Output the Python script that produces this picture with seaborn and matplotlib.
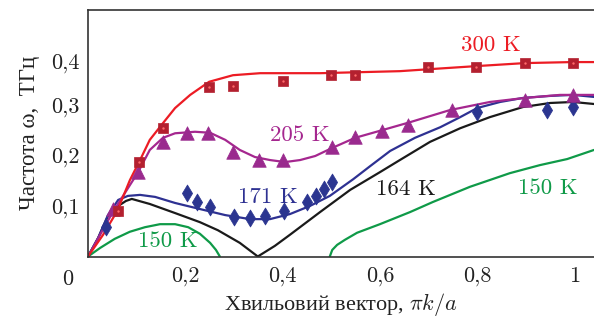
import matplotlib
matplotlib.use("Agg")
import matplotlib.pyplot as plt
import seaborn as sns
import pandas as pd

sns.set_theme(style="white")
plt.rcParams['font.family'] = ['cmr10', 'Liberation Serif', 'DejaVu Serif']
plt.rcParams['mathtext.fontset'] = 'cm'
plt.rcParams['axes.unicode_minus'] = False

# ---- data (k in units of pi/a, omega in THz) ----
# 300 K
k300_pts = [0.061, 0.105, 0.154, 0.249, 0.298, 0.401, 0.499, 0.549, 0.698, 0.798, 0.898, 0.996]
w300_pts = [0.090, 0.187, 0.254, 0.336, 0.338, 0.348, 0.359, 0.359, 0.375, 0.375, 0.383, 0.383]
k300_fit = [0.0, 0.031, 0.060, 0.086, 0.107, 0.127, 0.154, 0.179, 0.210, 0.249, 0.298, 0.354,
            0.401, 0.477, 0.559, 0.641, 0.703, 0.798, 0.898, 0.995, 1.040]
w300_fit = [0.0, 0.043, 0.090, 0.151, 0.191, 0.231, 0.264, 0.294, 0.320, 0.346, 0.359, 0.363,
            0.363, 0.363, 0.365, 0.367, 0.371, 0.377, 0.383, 0.385, 0.385]
# 205 K
k205_pts = [0.051, 0.103, 0.154, 0.203, 0.247, 0.298, 0.351, 0.401, 0.502, 0.549, 0.604, 0.658,
            0.748, 0.898, 0.997]
w205_pts = [0.094, 0.167, 0.227, 0.245, 0.245, 0.207, 0.191, 0.191, 0.217, 0.237, 0.249, 0.260,
            0.290, 0.310, 0.320]
k205_fit = [0.0, 0.051, 0.103, 0.127, 0.154, 0.179, 0.220, 0.251, 0.282, 0.312, 0.343, 0.374,
            0.405, 0.436, 0.467, 0.502, 0.549, 0.604, 0.662, 0.744, 0.826, 0.898, 0.970, 1.040]
w205_fit = [0.0, 0.088, 0.167, 0.211, 0.235, 0.244, 0.247, 0.245, 0.231, 0.211, 0.197, 0.191,
            0.187, 0.191, 0.199, 0.215, 0.235, 0.250, 0.266, 0.290, 0.306, 0.314, 0.320, 0.320]
# 171 K
k171_pts = [0.037, 0.203, 0.224, 0.251, 0.300, 0.333, 0.364, 0.403, 0.450, 0.469, 0.485, 0.502,
            0.800, 0.943, 0.997]
w171_pts = [0.058, 0.126, 0.108, 0.098, 0.078, 0.076, 0.080, 0.090, 0.108, 0.120, 0.134, 0.148,
            0.286, 0.290, 0.296]
k171_fit = [0.0, 0.021, 0.041, 0.062, 0.082, 0.107, 0.138, 0.179, 0.230, 0.282, 0.333, 0.374,
            0.415, 0.456, 0.497, 0.545, 0.580, 0.621, 0.672, 0.724, 0.765, 0.800, 0.847, 0.894,
            0.950, 0.997, 1.040]
w171_fit = [0.0, 0.037, 0.082, 0.112, 0.120, 0.122, 0.118, 0.106, 0.094, 0.082, 0.074, 0.074,
            0.084, 0.100, 0.120, 0.153, 0.179, 0.209, 0.235, 0.256, 0.276, 0.294, 0.306, 0.314,
            0.318, 0.320, 0.316]
# 164 K
k164_fit = [0.0, 0.021, 0.041, 0.062, 0.078, 0.090, 0.127, 0.179, 0.230, 0.267, 0.312, 0.349,
            0.384, 0.415, 0.477, 0.539, 0.600, 0.641, 0.703, 0.765, 0.826, 0.894, 0.950, 0.997, 1.040]
w164_fit = [0.0, 0.037, 0.080, 0.100, 0.110, 0.114, 0.104, 0.086, 0.068, 0.052, 0.027, 0.0,
            0.021, 0.043, 0.088, 0.132, 0.167, 0.191, 0.227, 0.254, 0.276, 0.296, 0.304, 0.306, 0.302]
# 150 K (two branches)
k150a_fit = [0.0, 0.025, 0.055, 0.086, 0.117, 0.148, 0.179, 0.206, 0.230, 0.251, 0.263, 0.271]
w150a_fit = [0.0, 0.017, 0.035, 0.049, 0.058, 0.064, 0.064, 0.058, 0.045, 0.027, 0.013, 0.0]
k150b_fit = [0.497, 0.502, 0.512, 0.528, 0.553, 0.600, 0.662, 0.709, 0.785, 0.867, 0.929, 0.985, 1.040]
w150b_fit = [0.0, 0.013, 0.023, 0.033, 0.047, 0.064, 0.088, 0.108, 0.138, 0.165, 0.181, 0.193, 0.211]

x_ticks = [0.2, 0.4, 0.6, 0.8, 1.0]
x_ticklabels = ['0,2', '0,4', '0,6', '0,8', '1']
y_ticks = [0.1, 0.2, 0.3, 0.387]
y_ticklabels = ['0,1', '0,2', '0,3', '0,4']

labels = ['300 K', '205 K', '171 K', '164 K', '150 K', '150 K']
label_x = [0.828, 0.436, 0.370, 0.654, 0.946, 0.164]
label_y = [0.418, 0.241, 0.118, 0.134, 0.136, 0.031]

RED, RED_M = '#ec1c24', '#b3202f'
PUR, PUR_M = '#a5278f', '#9a2a8e'
BLU, BLU_M = '#2e3192', '#2b3590'
BLK = '#1a1a1a'
GRN = '#0f9a48'
label_colors = [RED, PUR, BLU, BLK, GRN, GRN]

fig = plt.figure(figsize=(5.94, 3.21), dpi=100)
ax = fig.add_axes([88 / 594, 1 - 256.5 / 321, (594 - 88) / 594, (256.5 - 10) / 321])

def line(k, w, color, lw=1.6):
    sns.lineplot(x=k, y=w, ax=ax, color=color, linewidth=lw, sort=False,
                 estimator=None, legend=False)

line(k150a_fit, w150a_fit, GRN)
line(k150b_fit, w150b_fit, GRN)
line(k164_fit, w164_fit, BLK)
line(k171_fit, w171_fit, BLU)
line(k205_fit, w205_fit, PUR)
line(k300_fit, w300_fit, RED)

sns.scatterplot(x=k171_pts, y=w171_pts, ax=ax, marker='d', s=75, color=BLU_M,
                edgecolor=BLU_M, linewidth=0.5, zorder=5, legend=False)
sns.scatterplot(x=k205_pts, y=w205_pts, ax=ax, marker='^', s=95, color=PUR_M,
                edgecolor=PUR_M, linewidth=0.5, zorder=5, legend=False)
sns.scatterplot(x=k300_pts, y=w300_pts, ax=ax, marker='s', s=60, color=RED_M,
                edgecolor=RED_M, linewidth=0.5, zorder=6, legend=False)
sns.scatterplot(x=k300_pts, y=w300_pts, ax=ax, marker='o', s=3, color='#ff6a6a',
                linewidth=0, zorder=7, legend=False)

for t, x, y, c in zip(labels, label_x, label_y, label_colors):
    ax.text(x, y, t, color=c, fontsize=16.5, ha='center', va='center', zorder=8)

ax.set_xlim(0, 1.04)
ax.set_ylim(0, 246.5 / 505)
ax.set_xticks(x_ticks)
ax.set_xticklabels(x_ticklabels)
ax.set_yticks(y_ticks)
ax.set_yticklabels(y_ticklabels)
ax.tick_params(direction='in', length=5, width=1, labelsize=16, colors='#222222',
               pad=6)
ax.tick_params(axis='x', pad=7)
ax.annotate('0', xy=(-0.041, 0), xycoords=('data', 'axes fraction'),
            xytext=(0, -9.5), textcoords='offset points', ha='center', va='top',
            fontsize=16, color='#222222', annotation_clip=False)

for side in ['left', 'bottom', 'top']:
    ax.spines[side].set_color('#333333')
    ax.spines[side].set_linewidth(1.2)
ax.spines['right'].set_visible(False)

ax.set_xlabel(r'Хвильовий вектор, $\pi k/a$', fontsize=16, color='#222222',
              labelpad=4, fontfamily='Liberation Serif')
ax.set_ylabel('Частота ω,  ТГц', fontsize=16.5, color='#222222', labelpad=8,
              fontfamily='Liberation Serif')

fig.savefig('out.png', dpi=100)
